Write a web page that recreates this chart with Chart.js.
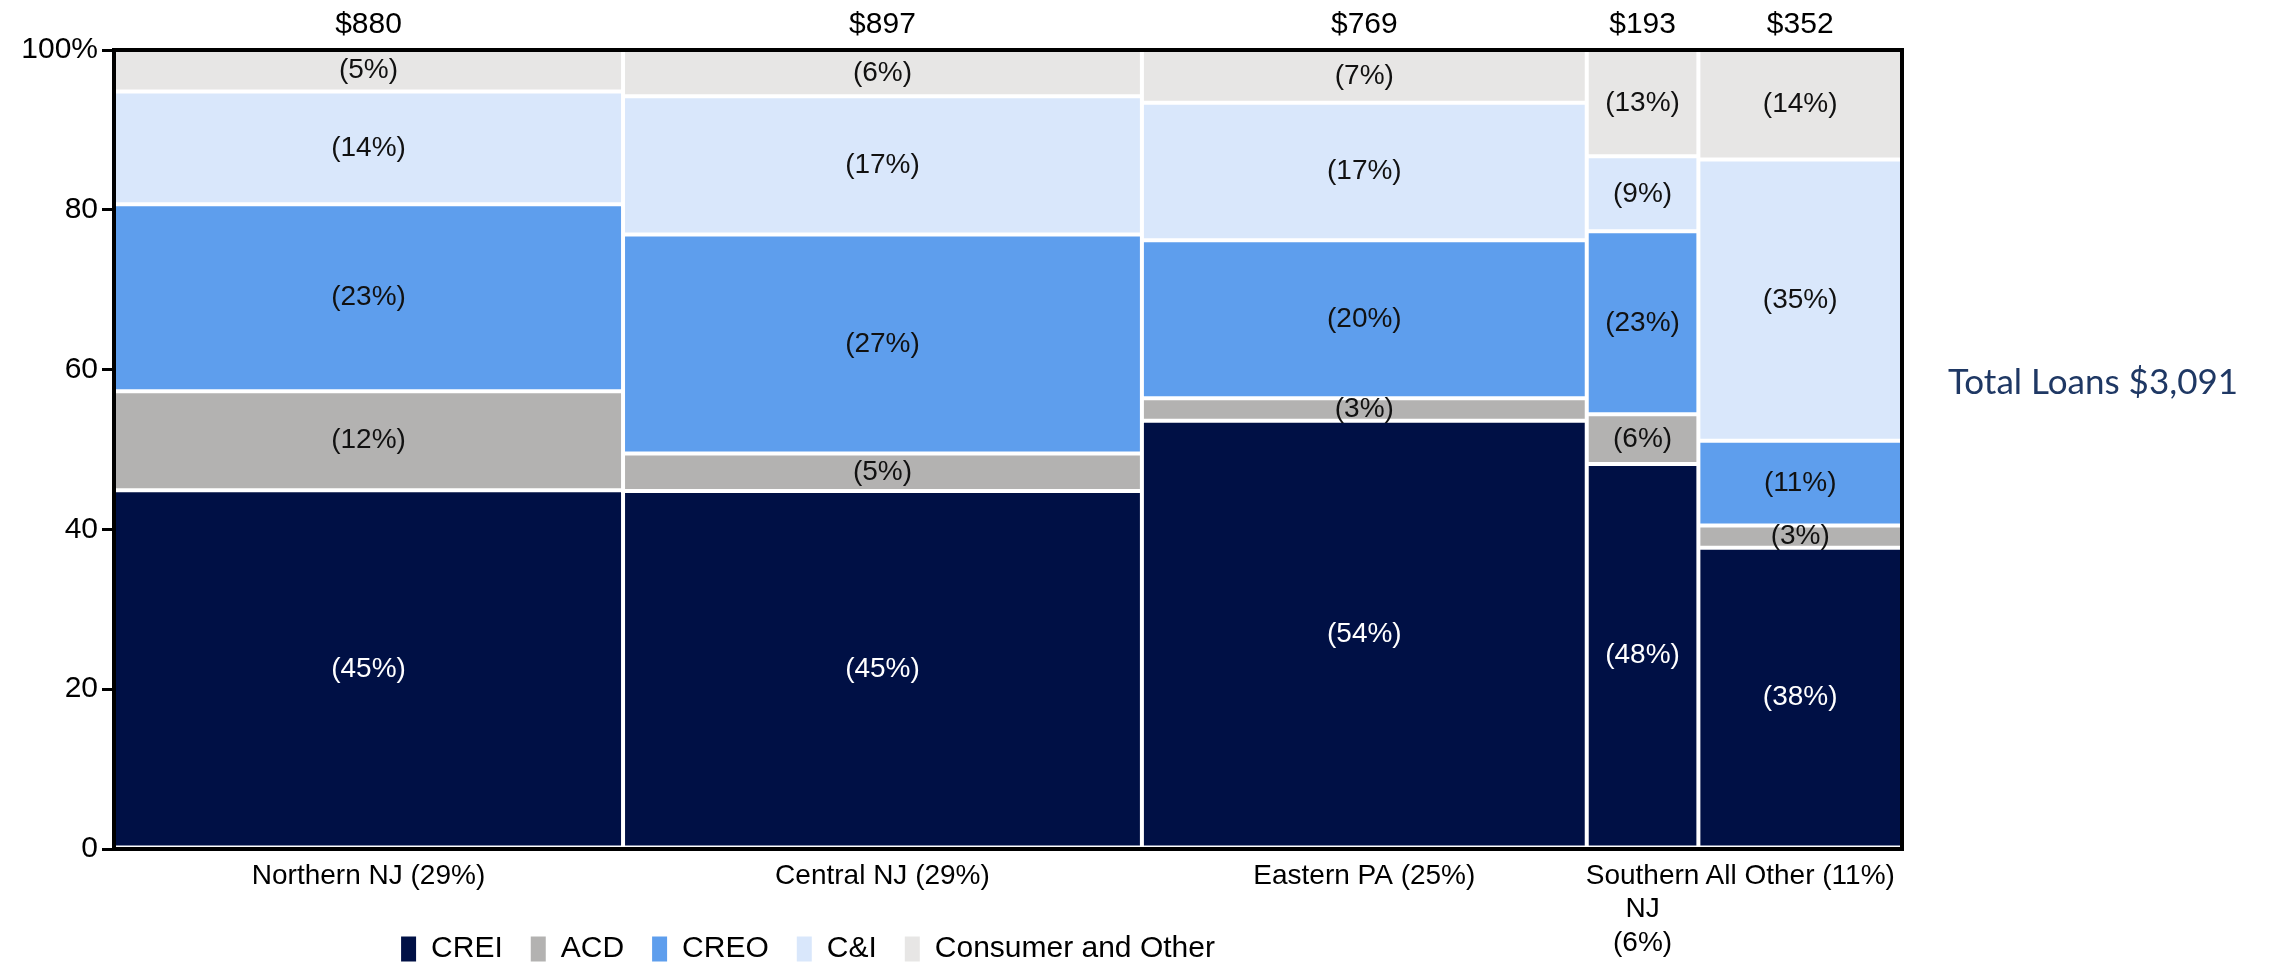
<!DOCTYPE html>
<html lang="en">
<head>
  <meta charset="UTF-8">
  <title>Loans by Region</title>
  <script src="https://cdn.jsdelivr.net/npm/chart.js"></script>
  <style>
    body { margin: 0; background: #fff; }
    #wrap { width: 2269px; height: 964px; position: relative; }
  </style>
</head>
<body>
  <div id="wrap"><canvas id="mekko"></canvas></div>

  <script>
    // values (percent of each region's book)
    const regions = ['Northern NJ (29%)', 'Central NJ (29%)', 'Eastern PA (25%)', ['Southern', 'NJ', '(6%)'], 'All Other (11%)'];
    const loanTotals = [880, 897, 769, 193, 352];
    const crei = [44.9, 44.8, 53.6, 48.2, 37.7];
    const acd = [12.4, 4.7, 2.8, 6.2, 2.8];
    const creo = [23.4, 27.4, 19.8, 22.9, 10.6];
    const cni = [14.1, 17.3, 17.2, 9.4, 35.2];
    const consumer = [5.2, 5.8, 6.6, 13.3, 13.7];
    const yTicks = [0, 20, 40, 60, 80, 100];
    const totalText = 'Total Loans $3,091';

    const grandTotal = loanTotals.reduce((a, b) => a + b, 0);
    const starts = loanTotals.map((v, i) => loanTotals.slice(0, i).reduce((a, b) => a + b, 0));
    const mids = starts.map((s, i) => s + loanTotals[i] / 2);

    const FONT = '"Liberation Sans", Arial, sans-serif';
    Chart.defaults.font.family = FONT;
    Chart.defaults.color = '#000';

    function series(label, values, color, textColor) {
      return {
        label,
        data: values.map((v, i) => ({ x: mids[i], y: v })),
        backgroundColor: color,
        borderColor: '#fff',
        borderWidth: 2,
        borderSkipped: false,
        textColor
      };
    }

    // stretch every bar across its region, width taken from the x scale
    const mekkoPlugin = {
      id: 'mekko',
      afterDatasetsUpdate(chart) {
        const xs = chart.scales.x;
        chart.data.datasets.forEach((ds, di) => {
          chart.getDatasetMeta(di).data.forEach((bar, i) => {
            const x0 = xs.getPixelForValue(starts[i]);
            const x1 = xs.getPixelForValue(starts[i] + loanTotals[i]);
            bar.x = (x0 + x1) / 2;
            bar.width = x1 - x0;
          });
        });
      },
      afterLayout(chart) {
        // x labels wrap below the axis box, so let them spill instead of clipping
        chart.scales.x.bottom = chart.height;
        const lg = chart.legend;
        lg.left -= 143;
        lg.right -= 143;
        const h = lg.bottom - lg.top;
        lg.top = 906;
        lg.bottom = 906 + h;
      },
      afterDatasetsDraw(chart) {
        const { ctx, chartArea: a } = chart;
        const xs = chart.scales.x;
        ctx.save();
        // segment labels
        ctx.textAlign = 'center';
        ctx.textBaseline = 'middle';
        ctx.font = '28px ' + FONT;
        chart.data.datasets.forEach((ds, di) => {
          chart.getDatasetMeta(di).data.forEach((bar, i) => {
            ctx.fillStyle = ds.textColor;
            ctx.fillText('(' + Math.round(ds.data[i].y) + '%)', bar.x, (bar.y + bar.base) / 2);
          });
        });
        // frame
        ctx.strokeStyle = '#000';
        ctx.lineWidth = 4;
        ctx.strokeRect(a.left, a.top, a.right - a.left, a.bottom - a.top);
        // region totals above columns
        ctx.fillStyle = '#000';
        ctx.font = '30px ' + FONT;
        loanTotals.forEach((t, i) => {
          ctx.fillText('$' + t, xs.getPixelForValue(mids[i]), a.top - 25);
        });
        // overall total
        ctx.fillStyle = '#1f3864';
        ctx.font = '35px Lato, "Open Sans", sans-serif';
        ctx.fillText(totalText, 2093, 383);
        ctx.restore();
      }
    };

    new Chart(document.getElementById('mekko'), {
      type: 'bar',
      data: {
        datasets: [
          series('CREI', crei, '#001045', '#fff'),
          series('ACD', acd, '#b3b2b1', '#111'),
          series('CREO', creo, '#5e9eed', '#111'),
          series('C&I', cni, '#d9e7fb', '#111'),
          series('Consumer and Other', consumer, '#e7e6e5', '#111')
        ]
      },
      options: {
        responsive: true,
        maintainAspectRatio: false,
        animation: false,
        layout: { padding: { left: 0, right: 367, top: 50, bottom: 0 } },
        plugins: {
          tooltip: { enabled: false },
          legend: {
            position: 'bottom',
            labels: {
              boxWidth: 15,
              boxHeight: 25,
              padding: 28,
              color: '#000',
              font: { size: 30 },
              generateLabels: chart =>
                Chart.defaults.plugins.legend.labels.generateLabels(chart).map(l => ({ ...l, lineWidth: 0 }))
            }
          }
        },
        scales: {
          x: {
            type: 'linear',
            stacked: true,
            offset: false,
            min: 0,
            max: grandTotal,
            bounds: 'data',
            afterBuildTicks: s => { s.ticks = mids.map(v => ({ value: v })); },
            afterFit: s => { s.height = 47; },
            grid: { display: false, drawTicks: false },
            border: { display: false },
            ticks: {
              autoSkip: false,
              maxRotation: 0,
              minRotation: 0,
              padding: 10,
              color: '#000',
              font: { size: 28 },
              callback: (v, i) => regions[i]
            }
          },
          y: {
            stacked: true,
            min: 0,
            max: 100,
            afterBuildTicks: s => { s.ticks = yTicks.map(v => ({ value: v })); },
            afterFit: s => { s.width = 114; },
            grid: { drawOnChartArea: false, drawTicks: true, tickLength: 12, color: '#000', lineWidth: 3 },
            border: { display: true, color: '#000', width: 4 },
            ticks: {
              padding: 4,
              color: '#000',
              font: { size: 30 },
              callback: v => (v === 100 ? '100%' : v)
            }
          }
        }
      },
      plugins: [mekkoPlugin]
    });
  </script>
</body>
</html>
